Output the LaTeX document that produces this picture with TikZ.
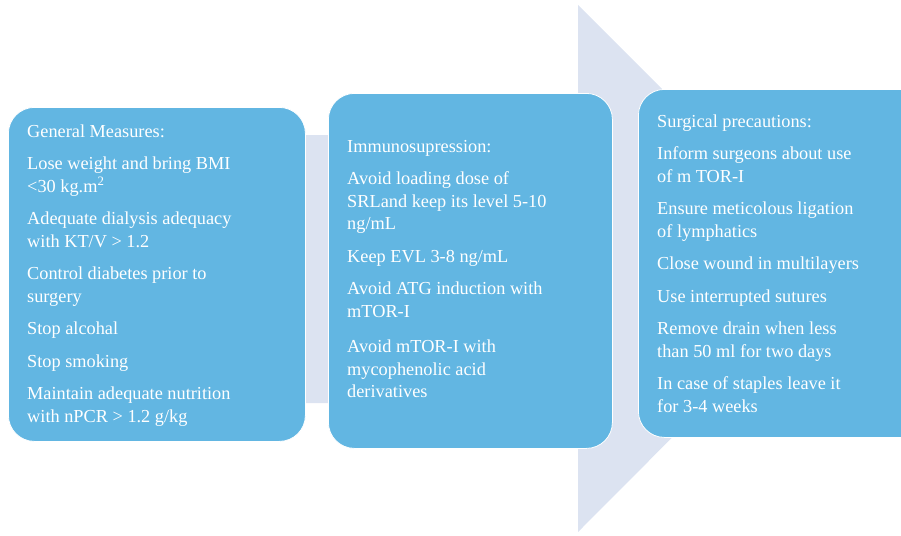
\documentclass[tikz,border=0pt]{standalone}
\usepackage{fontspec}
\setmainfont{Liberation Serif}

\definecolor{boxblue}{RGB}{98,182,226}
\definecolor{arrowgray}{RGB}{220,227,241}

\tikzset{
  panel/.style={fill=boxblue, draw=white, line width=0.8pt, rounded corners=26pt,
    anchor=north west, inner sep=0pt},
  paneltext/.style={anchor=north west, align=left, text=white, inner sep=0pt,
    font=\fontsize{18.3}{22.5}\selectfont},
}
\newcommand{\itemgap}{\\[10pt]}
\newcommand{\firstline}{\rule{0pt}{13pt}}

\begin{document}
\begin{tikzpicture}[x=1pt, y=-1pt]
  \useasboundingbox (0,0) rectangle (901,535);
  \clip (0,0) rectangle (901,535);

  % big background arrow
  \fill[arrowgray] (20,135) -- (578,135) -- (578,5) -- (841,268)
    -- (578,532) -- (578,403) -- (20,403) -- cycle;

  % rounded boxes
  \node[panel, minimum width=297pt, minimum height=334pt] (general) at (8,107) {};
  \node[panel, minimum width=284pt, minimum height=355pt] (immuno) at (328,93) {};
  \node[panel, minimum width=290pt, minimum height=348pt] (surgical) at (638,89) {};

  % box texts (first baseline sits 13pt below the node top)
  \node[paneltext] (generaltext) at ([xshift=19pt, yshift=-17pt]general.north west) {%
    \firstline General Measures:\itemgap
    Lose weight and bring BMI\\ <30 kg.m\textsuperscript{2}\itemgap
    Adequate dialysis adequacy\\ with KT/V > 1.2\itemgap
    Control diabetes prior to\\ surgery\itemgap
    Stop alcohal\itemgap
    Stop smoking\itemgap
    Maintain adequate nutrition\\ with nPCR > 1.2 g/kg};
  \node[paneltext] (immunotext) at ([xshift=19pt, yshift=-46pt]immuno.north west) {%
    \firstline Immunosupression:\itemgap
    Avoid loading dose of\\ SRLand keep its level 5-10\\ ng/mL\itemgap
    Keep EVL 3-8 ng/mL\itemgap
    Avoid ATG induction with\\ mTOR-I\\[13pt]
    Avoid mTOR-I with\\ mycophenolic acid\\ derivatives};
  \node[paneltext] (surgicaltext) at ([xshift=19pt, yshift=-25pt]surgical.north west) {%
    \firstline Surgical precautions:\itemgap
    Inform surgeons about use\\ of m TOR-I\itemgap
    Ensure meticolous ligation\\ of lymphatics\itemgap
    Close wound in multilayers\itemgap
    Use interrupted sutures\itemgap
    Remove drain when less\\ than 50 ml for two days\itemgap
    In case of staples leave it\\ for 3-4 weeks};
\end{tikzpicture}
\end{document}
